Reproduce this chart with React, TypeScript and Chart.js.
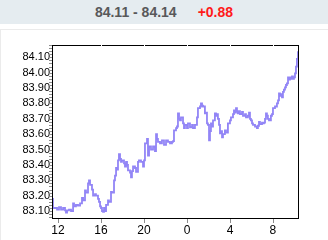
import React, { useEffect, useRef } from "react";
import { Chart, registerables } from "chart.js";

Chart.register(...registerables);

const rangeText = "84.11 - 84.14";
const changeText = "+0.88";

// hours since midnight of the first day (24 = 0h next day)
const times = [
  11.44, 11.53, 11.72, 11.91, 12.09, 12.28, 12.47, 12.65, 12.74, 12.84, 13.02, 13.21, 13.40, 13.49, 13.67, 13.86,
  14.05, 14.23, 14.33, 14.51, 14.60, 14.79, 14.88, 14.98, 15.16, 15.26, 15.44, 15.53, 15.72, 15.81, 15.91, 16.00,
  16.09, 16.19, 16.28, 16.37, 16.47, 16.65, 16.74, 16.93, 17.02, 17.21, 17.30, 17.40, 17.49, 17.58, 17.67, 17.77,
  17.86, 17.95, 18.14, 18.23, 18.33, 18.42, 18.51, 18.70, 18.79, 18.88, 18.98, 19.16, 19.26, 19.44, 19.53, 19.72,
  19.91, 20.00, 20.09, 20.28, 20.37, 20.47, 20.65, 20.84, 21.02, 21.12, 21.21, 21.30, 21.49, 21.67, 21.86, 22.05,
  22.23, 22.42, 22.60, 22.70, 22.79, 22.98, 23.07, 23.16, 23.26, 23.35, 23.44, 23.63, 23.72, 23.81, 24.00, 24.09,
  24.28, 24.47, 24.56, 24.74, 24.93, 25.02, 25.21, 25.30, 25.40, 25.49, 25.67, 25.77, 25.86, 25.95, 26.05, 26.14,
  26.23, 26.33, 26.42, 26.60, 26.70, 26.79, 26.88, 26.98, 27.07, 27.16, 27.26, 27.35, 27.53, 27.63, 27.81, 28.00,
  28.09, 28.28, 28.37, 28.47, 28.56, 28.65, 28.74, 28.84, 28.93, 29.12, 29.21, 29.40, 29.49, 29.67, 29.77, 29.86,
  29.95, 30.05, 30.14, 30.33, 30.51, 30.60, 30.70, 30.79, 30.98, 31.07, 31.16, 31.26, 31.35, 31.44, 31.53, 31.63,
  31.81, 31.91, 32.00, 32.19, 32.37, 32.47, 32.56, 32.65, 32.74, 32.84, 32.93, 33.02, 33.12, 33.21, 33.30, 33.40,
  33.49, 33.58, 33.67, 33.77, 33.86, 33.95, 34.05, 34.14, 34.23, 34.33,
];

const prices = [
  83.18, 83.12, 83.12, 83.11, 83.125, 83.11, 83.12, 83.105, 83.09, 83.105, 83.11, 83.1, 83.15, 83.13, 83.14, 83.135,
  83.15, 83.185, 83.17, 83.235, 83.22, 83.28, 83.3, 83.27, 83.24, 83.2, 83.21, 83.2, 83.18, 83.16, 83.13, 83.12,
  83.1, 83.095, 83.12, 83.1, 83.14, 83.17, 83.16, 83.225, 83.22, 83.3, 83.33, 83.38, 83.37, 83.43, 83.47, 83.44,
  83.42, 83.43, 83.41, 83.39, 83.42, 83.4, 83.365, 83.35, 83.32, 83.36, 83.39, 83.38, 83.355, 83.42, 83.43, 83.42,
  83.39, 83.43, 83.54, 83.57, 83.46, 83.52, 83.5, 83.52, 83.49, 83.6, 83.57, 83.55, 83.54, 83.56, 83.53, 83.56,
  83.55, 83.54, 83.55, 83.555, 83.625, 83.64, 83.65, 83.735, 83.7, 83.69, 83.71, 83.67, 83.64, 83.66, 83.64, 83.67,
  83.645, 83.66, 83.64, 83.66, 83.71, 83.77, 83.78, 83.8, 83.785, 83.78, 83.735, 83.74, 83.67, 83.66, 83.56, 83.62,
  83.67, 83.65, 83.69, 83.735, 83.72, 83.73, 83.7, 83.66, 83.605, 83.62, 83.58, 83.6, 83.625, 83.61, 83.67, 83.69,
  83.71, 83.73, 83.755, 83.74, 83.77, 83.75, 83.735, 83.75, 83.73, 83.745, 83.72, 83.73, 83.71, 83.72, 83.74, 83.7,
  83.69, 83.67, 83.66, 83.65, 83.64, 83.655, 83.68, 83.665, 83.675, 83.67, 83.675, 83.7, 83.735, 83.72, 83.7, 83.69,
  83.72, 83.73, 83.77, 83.78, 83.8, 83.82, 83.865, 83.85, 83.86, 83.84, 83.875, 83.89, 83.905, 83.92, 83.93, 83.97,
  83.955, 83.97, 83.96, 83.975, 83.96, 83.97, 83.995, 84.04, 84.09, 84.14,
];

const xTickValues = [12, 16, 20, 24, 28, 32];
const xTickLabels = ["12", "16", "20", "0", "4", "8"];
const yTickValues = [83.1, 83.2, 83.3, 83.4, 83.5, 83.6, 83.7, 83.8, 83.9, 84.0, 84.1];
const yMinorStep = 0.02;
const xMin = 11.44;
const xMax = 34.33;
const yMin = 83.055;
const yMax = 84.18;

const framePlugin = {
  id: "frame",
  afterDraw(chart: any) {
    const { ctx, chartArea } = chart;
    const xs = chart.scales.x;
    const ys = chart.scales.y;
    const L = chartArea.left, T = chartArea.top, R = chartArea.right, B = chartArea.bottom;
    ctx.save();
    ctx.fillStyle = "#8c8c8c";
    for (let v = Math.ceil(yMin / yMinorStep) * yMinorStep; v <= yMax + 1e-9; v += yMinorStep) {
      const py = Math.round(ys.getPixelForValue(v));
      ctx.fillRect(L - 3, py, 3, 1);
    }
    xTickValues.forEach((v) => {
      const px = Math.round(xs.getPixelForValue(v));
      ctx.fillRect(px, B + 1, 1, 4);
    });
    ctx.fillStyle = "#000";
    ctx.fillRect(L, T, R - L + 1, 1);
    ctx.fillRect(L, B, R - L + 1, 1);
    ctx.fillRect(L, T, 1, B - T + 1);
    ctx.fillRect(R, T, 1, B - T + 1);
    ctx.fillStyle = "#fff";
    xTickValues.slice(1).forEach((v) => {
      const px = Math.round(xs.getPixelForValue(v));
      ctx.fillRect(px, T, 1, 1);
    });
    ctx.restore();
  },
};

export default function App() {
  const ref = useRef<HTMLCanvasElement | null>(null);
  useEffect(() => {
    if (!ref.current) return;
    const data = times.map((t, i) => ({ x: t, y: prices[i] }));
    const font = { family: "'Liberation Sans', Arial, sans-serif", size: 11 };
    const chart = new Chart(ref.current, {
      type: "line",
      data: {
        datasets: [
          {
            data,
            borderColor: "#9285f6",
            borderWidth: 1.8,
            pointRadius: 0,
            stepped: true,
            fill: false,
          },
        ],
      },
      options: {
        animation: false,
        responsive: false,
        devicePixelRatio: 1,
        events: [],
        plugins: { legend: { display: false }, tooltip: { enabled: false } },
        layout: { padding: { left: 0, top: 45, right: 30, bottom: 0 } },
        scales: {
          x: {
            type: "linear",
            min: xMin,
            max: xMax,
            grid: { display: false, drawTicks: false },
            border: { display: false },
            afterFit: (s: any) => {
              s.height = 22;
            },
            afterBuildTicks: (s: any) => {
              s.ticks = xTickValues.map((v) => ({ value: v }));
            },
            ticks: {
              autoSkip: false,
              maxRotation: 0,
              padding: 5,
              color: "#000",
              font: { ...font, size: 12 },
              callback: (v: any) => {
                const i = xTickValues.indexOf(Number(v));
                return i >= 0 ? xTickLabels[i] : "";
              },
            },
          },
          y: {
            type: "linear",
            min: yMin,
            max: yMax,
            grid: { display: false, drawTicks: false },
            border: { display: false },
            afterFit: (s: any) => {
              s.width = 52;
            },
            afterBuildTicks: (s: any) => {
              s.ticks = yTickValues.map((v) => ({ value: v }));
            },
            ticks: {
              autoSkip: false,
              padding: 2,
              color: "#000",
              font,
              callback: (v: any) => Number(v).toFixed(2),
            },
          },
        },
      },
      plugins: [framePlugin],
    });
    return () => chart.destroy();
  }, []);

  return (
    <div
      style={{
        position: "fixed",
        left: 0,
        top: 0,
        width: 328,
        height: 240,
        background: "#fff",
        overflow: "hidden",
        fontFamily: "'Liberation Sans', Arial, sans-serif",
      }}
    >
      <div
        style={{
          position: "absolute",
          left: 0,
          top: 0,
          width: 328,
          height: 24,
          background: "#e5ecf0",
          display: "flex",
          justifyContent: "center",
          alignItems: "center",
          fontSize: 14,
          fontWeight: "bold",
          lineHeight: "24px",
        }}
      >
        <span style={{ color: "#58585a" }}>{rangeText}</span>
        <span style={{ color: "#ff1a1a", marginLeft: 21 }}>{changeText}</span>
      </div>
      <div
        style={{
          position: "absolute",
          left: 0,
          top: 29,
          width: 340,
          height: 240,
          borderTop: "1px solid #ebebeb",
          borderLeft: "1px solid #ebebeb",
        }}
      />
      <canvas ref={ref} width={328} height={240} style={{ position: "absolute", left: 0, top: 0, width: 328, height: 240 }} />
    </div>
  );
}
